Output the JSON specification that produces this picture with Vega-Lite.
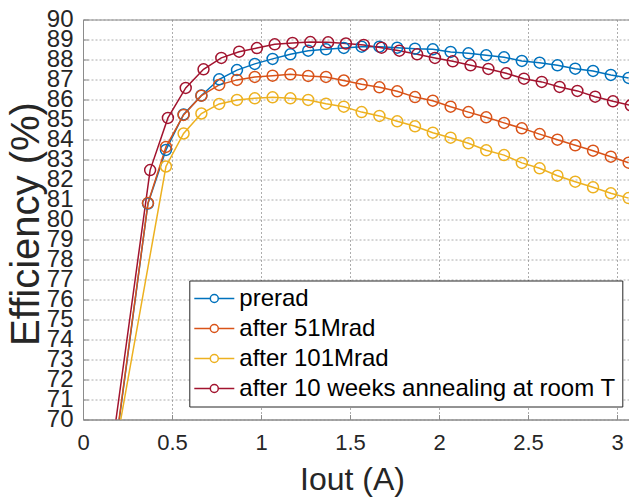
{
  "$schema": "https://vega.github.io/schema/vega-lite/v6.json",
  "width": 546,
  "height": 400,
  "autosize": {"type": "none"},
  "padding": {"left": 83, "top": 19.5, "right": 0, "bottom": 77.5},
  "background": "white",
  "config": {
    "font": "Liberation Sans",
    "view": {"stroke": "#8c8c8c", "strokeWidth": 1}
  },
  "data": {
    "values": [
      {"s": "prerad", "x": 0.165, "y": 67.4},
      {"s": "prerad", "x": 0.365, "y": 80.8},
      {"s": "prerad", "x": 0.466, "y": 83.48},
      {"s": "prerad", "x": 0.565, "y": 85.25},
      {"s": "prerad", "x": 0.665, "y": 86.2},
      {"s": "prerad", "x": 0.765, "y": 87.01},
      {"s": "prerad", "x": 0.865, "y": 87.47},
      {"s": "prerad", "x": 0.965, "y": 87.78},
      {"s": "prerad", "x": 1.065, "y": 88.03},
      {"s": "prerad", "x": 1.165, "y": 88.26},
      {"s": "prerad", "x": 1.265, "y": 88.44},
      {"s": "prerad", "x": 1.365, "y": 88.51},
      {"s": "prerad", "x": 1.465, "y": 88.58},
      {"s": "prerad", "x": 1.565, "y": 88.64},
      {"s": "prerad", "x": 1.665, "y": 88.64},
      {"s": "prerad", "x": 1.765, "y": 88.59},
      {"s": "prerad", "x": 1.865, "y": 88.54},
      {"s": "prerad", "x": 1.965, "y": 88.51},
      {"s": "prerad", "x": 2.065, "y": 88.38},
      {"s": "prerad", "x": 2.165, "y": 88.31},
      {"s": "prerad", "x": 2.265, "y": 88.21},
      {"s": "prerad", "x": 2.365, "y": 88.11},
      {"s": "prerad", "x": 2.465, "y": 87.93},
      {"s": "prerad", "x": 2.565, "y": 87.84},
      {"s": "prerad", "x": 2.665, "y": 87.71},
      {"s": "prerad", "x": 2.765, "y": 87.54},
      {"s": "prerad", "x": 2.865, "y": 87.43},
      {"s": "prerad", "x": 2.965, "y": 87.23},
      {"s": "prerad", "x": 3.065, "y": 87.08},

      {"s": "after 51Mrad", "x": 0.165, "y": 67.5},
      {"s": "after 51Mrad", "x": 0.365, "y": 80.82},
      {"s": "after 51Mrad", "x": 0.466, "y": 83.63},
      {"s": "after 51Mrad", "x": 0.565, "y": 85.23},
      {"s": "after 51Mrad", "x": 0.665, "y": 86.19},
      {"s": "after 51Mrad", "x": 0.765, "y": 86.73},
      {"s": "after 51Mrad", "x": 0.865, "y": 86.98},
      {"s": "after 51Mrad", "x": 0.965, "y": 87.13},
      {"s": "after 51Mrad", "x": 1.065, "y": 87.19},
      {"s": "after 51Mrad", "x": 1.165, "y": 87.26},
      {"s": "after 51Mrad", "x": 1.265, "y": 87.18},
      {"s": "after 51Mrad", "x": 1.365, "y": 87.13},
      {"s": "after 51Mrad", "x": 1.465, "y": 86.95},
      {"s": "after 51Mrad", "x": 1.565, "y": 86.76},
      {"s": "after 51Mrad", "x": 1.665, "y": 86.61},
      {"s": "after 51Mrad", "x": 1.765, "y": 86.41},
      {"s": "after 51Mrad", "x": 1.865, "y": 86.12},
      {"s": "after 51Mrad", "x": 1.965, "y": 85.94},
      {"s": "after 51Mrad", "x": 2.065, "y": 85.64},
      {"s": "after 51Mrad", "x": 2.165, "y": 85.37},
      {"s": "after 51Mrad", "x": 2.265, "y": 85.11},
      {"s": "after 51Mrad", "x": 2.365, "y": 84.83},
      {"s": "after 51Mrad", "x": 2.465, "y": 84.56},
      {"s": "after 51Mrad", "x": 2.565, "y": 84.27},
      {"s": "after 51Mrad", "x": 2.665, "y": 83.99},
      {"s": "after 51Mrad", "x": 2.765, "y": 83.71},
      {"s": "after 51Mrad", "x": 2.865, "y": 83.44},
      {"s": "after 51Mrad", "x": 2.965, "y": 83.14},
      {"s": "after 51Mrad", "x": 3.065, "y": 82.84},

      {"s": "after 101Mrad", "x": 0.165, "y": 67.65},
      {"s": "after 101Mrad", "x": 0.466, "y": 82.65},
      {"s": "after 101Mrad", "x": 0.565, "y": 84.3},
      {"s": "after 101Mrad", "x": 0.665, "y": 85.3},
      {"s": "after 101Mrad", "x": 0.765, "y": 85.78},
      {"s": "after 101Mrad", "x": 0.865, "y": 85.98},
      {"s": "after 101Mrad", "x": 0.965, "y": 86.06},
      {"s": "after 101Mrad", "x": 1.065, "y": 86.11},
      {"s": "after 101Mrad", "x": 1.165, "y": 86.06},
      {"s": "after 101Mrad", "x": 1.265, "y": 85.98},
      {"s": "after 101Mrad", "x": 1.365, "y": 85.79},
      {"s": "after 101Mrad", "x": 1.465, "y": 85.64},
      {"s": "after 101Mrad", "x": 1.565, "y": 85.37},
      {"s": "after 101Mrad", "x": 1.665, "y": 85.18},
      {"s": "after 101Mrad", "x": 1.765, "y": 84.91},
      {"s": "after 101Mrad", "x": 1.865, "y": 84.66},
      {"s": "after 101Mrad", "x": 1.965, "y": 84.34},
      {"s": "after 101Mrad", "x": 2.065, "y": 84.09},
      {"s": "after 101Mrad", "x": 2.165, "y": 83.81},
      {"s": "after 101Mrad", "x": 2.265, "y": 83.46},
      {"s": "after 101Mrad", "x": 2.365, "y": 83.22},
      {"s": "after 101Mrad", "x": 2.465, "y": 82.83},
      {"s": "after 101Mrad", "x": 2.565, "y": 82.56},
      {"s": "after 101Mrad", "x": 2.665, "y": 82.19},
      {"s": "after 101Mrad", "x": 2.765, "y": 81.89},
      {"s": "after 101Mrad", "x": 2.865, "y": 81.61},
      {"s": "after 101Mrad", "x": 2.965, "y": 81.31},
      {"s": "after 101Mrad", "x": 3.065, "y": 81.07},

      {"s": "after 10 weeks annealing at room T", "x": 0.177, "y": 69.45},
      {"s": "after 10 weeks annealing at room T", "x": 0.377, "y": 82.47},
      {"s": "after 10 weeks annealing at room T", "x": 0.477, "y": 85.08},
      {"s": "after 10 weeks annealing at room T", "x": 0.577, "y": 86.58},
      {"s": "after 10 weeks annealing at room T", "x": 0.677, "y": 87.51},
      {"s": "after 10 weeks annealing at room T", "x": 0.777, "y": 88.08},
      {"s": "after 10 weeks annealing at room T", "x": 0.877, "y": 88.39},
      {"s": "after 10 weeks annealing at room T", "x": 0.977, "y": 88.57},
      {"s": "after 10 weeks annealing at room T", "x": 1.077, "y": 88.76},
      {"s": "after 10 weeks annealing at room T", "x": 1.177, "y": 88.83},
      {"s": "after 10 weeks annealing at room T", "x": 1.277, "y": 88.87},
      {"s": "after 10 weeks annealing at room T", "x": 1.377, "y": 88.86},
      {"s": "after 10 weeks annealing at room T", "x": 1.477, "y": 88.8},
      {"s": "after 10 weeks annealing at room T", "x": 1.577, "y": 88.73},
      {"s": "after 10 weeks annealing at room T", "x": 1.677, "y": 88.59},
      {"s": "after 10 weeks annealing at room T", "x": 1.777, "y": 88.44},
      {"s": "after 10 weeks annealing at room T", "x": 1.877, "y": 88.26},
      {"s": "after 10 weeks annealing at room T", "x": 1.977, "y": 88.08},
      {"s": "after 10 weeks annealing at room T", "x": 2.077, "y": 87.91},
      {"s": "after 10 weeks annealing at room T", "x": 2.177, "y": 87.71},
      {"s": "after 10 weeks annealing at room T", "x": 2.277, "y": 87.53},
      {"s": "after 10 weeks annealing at room T", "x": 2.377, "y": 87.31},
      {"s": "after 10 weeks annealing at room T", "x": 2.477, "y": 87.04},
      {"s": "after 10 weeks annealing at room T", "x": 2.577, "y": 86.88},
      {"s": "after 10 weeks annealing at room T", "x": 2.677, "y": 86.63},
      {"s": "after 10 weeks annealing at room T", "x": 2.777, "y": 86.43},
      {"s": "after 10 weeks annealing at room T", "x": 2.877, "y": 86.14},
      {"s": "after 10 weeks annealing at room T", "x": 2.977, "y": 85.91},
      {"s": "after 10 weeks annealing at room T", "x": 3.077, "y": 85.71}
    ]
  },
  "mark": {
    "type": "line",
    "clip": true,
    "strokeWidth": 1.5,
    "point": {"filled": false, "size": 120, "strokeWidth": 1.5, "fill": "transparent"}
  },
  "encoding": {
    "x": {
      "field": "x",
      "type": "quantitative",
      "scale": {"domain": [0, 3.067], "nice": false, "zero": false},
      "axis": {
        "title": "Iout (A)",
        "values": [0, 0.5, 1, 1.5, 2, 2.5, 3],
        "format": "~g",
        "labelFontSize": 22,
        "labelColor": "#262626",
        "labelPadding": 18,
        "labelFlush": false,
        "tickSize": -5,
        "tickColor": "#8c8c8c",
        "domainColor": "#8c8c8c",
        "grid": true,
        "gridColor": "#8a8a8a",
        "gridDash": [2, 2],
        "gridOpacity": 0.7,
        "titleFontSize": 32,
        "titleFontWeight": "normal",
        "titleColor": "#262626",
        "titlePadding": 11,
        "titleX": 269,
        "titleAnchor": "middle"
      }
    },
    "y": {
      "field": "y",
      "type": "quantitative",
      "scale": {"domain": [70, 90], "nice": false, "zero": false},
      "axis": {
        "title": "Efficiency (%)",
        "values": [70,71,72,73,74,75,76,77,78,79,80,81,82,83,84,85,86,87,88,89,90],
        "labelFontSize": 24,
        "labelColor": "#262626",
        "labelPadding": 15,
        "labelFlush": false,
        "labelOverlap": false,
        "tickSize": -5,
        "tickColor": "#8c8c8c",
        "domainColor": "#8c8c8c",
        "grid": true,
        "gridColor": "#8a8a8a",
        "gridDash": [2, 2],
        "gridOpacity": 0.7,
        "titleFontSize": 40,
        "titleFontWeight": "normal",
        "titleColor": "#262626",
        "titleBaseline": "alphabetic",
        "titleX": -45,
        "titleY": 204
      }
    },
    "color": {
      "field": "s",
      "type": "nominal",
      "sort": ["prerad", "after 51Mrad", "after 101Mrad", "after 10 weeks annealing at room T"],
      "scale": {
        "domain": ["prerad", "after 51Mrad", "after 101Mrad", "after 10 weeks annealing at room T"],
        "range": ["#0072BD", "#D95319", "#EDB120", "#A2142F"]
      },
      "legend": {
        "title": null,
        "orient": "none",
        "legendX": 106.3,
        "legendY": 261,
        "symbolType": "M-2,0L-0.4,0M0.4,0L2,0M-0.4,0A0.4,0.4,0,1,1,0.4,0A0.4,0.4,0,1,1,-0.4,0",
        "symbolSize": 400,
        "symbolOffset": 7,
        "symbolStrokeWidth": 1.5,
        "symbolFillColor": "transparent",
        "labelFontSize": 24,
        "labelColor": "black",
        "labelLimit": 600,
        "labelOffset": 13,
        "rowPadding": 6,
        "padding": 6,
        "strokeColor": "#262626",
        "fillColor": "white"
      }
    },
    "order": {"field": "x", "type": "quantitative"}
  }
}
